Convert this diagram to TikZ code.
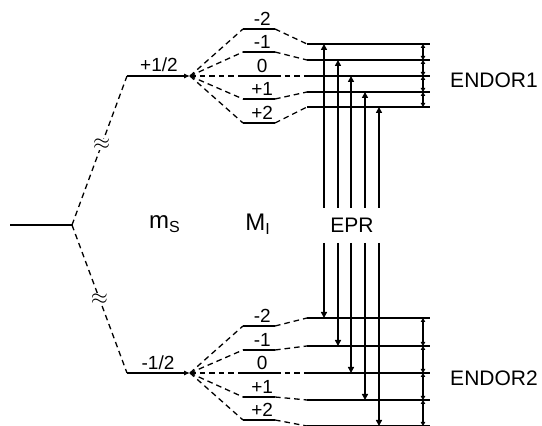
\documentclass[tikz,border=0pt]{standalone}
\usepackage{fontspec}
\setmainfont{Liberation Sans}
\usetikzlibrary{arrows.meta, calc}

\begin{document}
\begin{tikzpicture}[
    x=0.5pt, y=-0.5pt,
    level/.style={line width=1.2pt, draw=black},
    link/.style={dash pattern=on 2.8pt off 2pt, line width=0.65pt},
    epr/.style={-{Triangle[length=3pt,width=3pt]}, line width=0.75pt},
    endor/.style={{Triangle[length=2pt,width=2.2pt]}-{Triangle[length=2pt,width=2.2pt]}, line width=0.6pt},
    mlabel/.style={font=\fontsize{9.5}{10}\selectfont, inner sep=1pt},
    tag/.style={font=\fontsize{10.5}{12}\selectfont, inner sep=1pt},
    qnum/.style={font=\fontsize{12}{14}\selectfont, inner sep=1pt},
    gap/.style={font=\fontsize{11}{12}\selectfont, fill=white, inner sep=0.2pt}
]
\useasboundingbox (0,0) rectangle (542,426);
\clip (0,0) rectangle (542,426);

% Zero field level and the electron spin split
\coordinate (g0) at (10,225);
\coordinate (split) at (72,225);
\draw[level] (g0) -- (split);

\coordinate (upA) at (127,76);
\coordinate (upB) at (190,76);
\coordinate (loA) at (127,373);
\coordinate (loB) at (190,373);
\draw[link] (split) -- node[gap, pos=0.54] (gapup) {$\approx$} (upA);
\draw[link] (split) -- node[gap, pos=0.5] (gaplo) {$\approx$} (loA);
\draw[level, -{Latex[length=3pt,width=2.6pt]}] (upA) -- (upB);
\draw[level, -{Latex[length=3pt,width=2.6pt]}] (loA) -- (loB);
\node[mlabel] (msup) at (159,65) {+1/2};
\node[mlabel] (mslo) at (158,363) {-1/2};

% Nuclear sublevels, m_S = +1/2
\foreach \i/\yl/\ye/\lab in {1/29/44/-2, 2/52/60/-1, 3/76/76/0, 4/99/92/+1, 5/123/107/+2} {
    \coordinate (uL\i) at (243,\yl);
    \coordinate (uR\i) at (275,\yl);
    \coordinate (uE\i) at (307,\ye);
    \coordinate (uF\i) at (430,\ye);
    \coordinate (uN\i) at (423,\ye);
    \draw[level] (uL\i) -- node[pos=0.6, above, mlabel] (uM\i) {\lab} (uR\i);
    \draw[link] (upB) -- (uL\i);
    \draw[link] (uR\i) -- (uE\i);
    \draw[level] (uE\i) -- (uF\i);
}

% Nuclear sublevels, m_S = -1/2
\foreach \i/\yl/\ye/\lab in {1/326/318/-2, 2/350/346/-1, 3/373/373/0, 4/397/400/+1, 5/420/426/+2} {
    \coordinate (lL\i) at (243,\yl);
    \coordinate (lR\i) at (275,\yl);
    \coordinate (lE\i) at (307,\ye);
    \coordinate (lF\i) at (430,\ye);
    \coordinate (lN\i) at (423,\ye);
    \draw[level] (lL\i) -- node[pos=0.6, above, mlabel] (lM\i) {\lab} (lR\i);
    \draw[link] (loB) -- (lL\i);
    \draw[link] (lR\i) -- (lE\i);
    \draw[level] (lE\i) -- (lF\i);
}

% EPR transitions
\foreach \i/\x in {1/324, 2/338, 3/351, 4/365, 5/379} {
    \coordinate (eu\i) at (\x,208);
    \coordinate (ed\i) at (\x,243);
    \draw[epr] (eu\i) -- (eu\i |- uE\i);
    \draw[epr] (ed\i) -- (ed\i |- lE\i);
}

% ENDOR transitions
\foreach \i/\j in {1/2, 2/3, 3/4, 4/5} {
    \draw[endor] (uN\i) -- (uN\j);
    \draw[endor] (lN\i) -- (lN\j);
}

% Labels
\node[qnum] (ms) at (165,224) {m\textsubscript{S}};
\node[qnum] (mi) at (258,224) {M\textsubscript{I}};
\node[tag] (epr) at (352,225) {EPR};
\node[tag] (endor1) at (494,80) {ENDOR1};
\node[tag] (endor2) at (494,378) {ENDOR2};

\end{tikzpicture}
\end{document}
